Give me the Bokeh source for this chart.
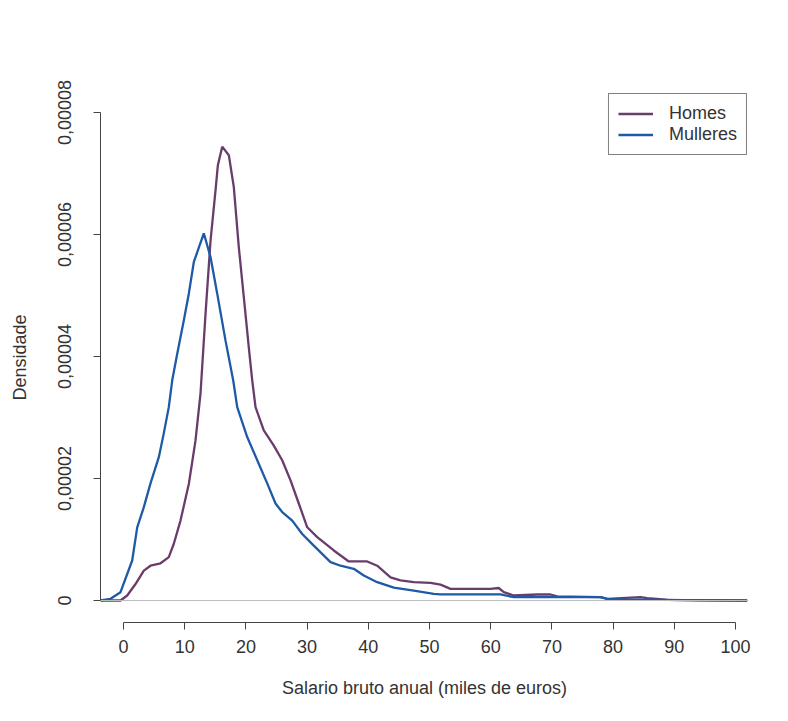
from bokeh.plotting import figure
from bokeh.models import Range1d, FixedTicker, Legend, LegendItem, Span, PolyAnnotation
from bokeh.embed import file_html
from bokeh.resources import INLINE

# Data: salary in thousands of euros, density
homes_x = [-3.76, -0.49, 0.60, 1.96, 3.32, 4.41, 6.05, 7.40, 8.22, 9.31, 10.67, 11.76,
           12.58, 13.40, 14.22, 15.03, 15.41, 16.13, 17.21, 18.02, 18.84, 19.66, 20.47,
           21.03, 21.57, 22.92, 24.56, 25.93, 27.29, 28.64, 30.02, 31.65, 34.36, 36.81,
           39.82, 41.45, 43.63, 45.26, 47.43, 50.16, 51.80, 53.43, 59.97, 61.3, 62.14,
           63.77, 67.6, 69.77, 70.87, 77.94, 79.04, 84.48, 85.57, 87.2, 88.84, 101.9]
homes_y = [0.0, 0.0, 0.082e-5, 0.27e-5, 0.49e-5, 0.57e-5, 0.61e-5, 0.71e-5, 0.93e-5,
           1.31e-5, 1.91e-5, 2.62e-5, 3.39e-5, 4.70e-5, 5.90e-5, 6.72e-5, 7.13e-5,
           7.44e-5, 7.30e-5, 6.78e-5, 5.79e-5, 4.97e-5, 4.15e-5, 3.61e-5, 3.17e-5,
           2.79e-5, 2.54e-5, 2.30e-5, 1.97e-5, 1.59e-5, 1.20e-5, 1.04e-5, 0.82e-5,
           0.64e-5, 0.64e-5, 0.57e-5, 0.38e-5, 0.33e-5, 0.30e-5, 0.29e-5, 0.26e-5,
           0.19e-5, 0.19e-5, 0.205e-5, 0.136e-5, 0.082e-5, 0.098e-5, 0.098e-5,
           0.066e-5, 0.054e-5, 0.028e-5, 0.054e-5, 0.038e-5, 0.028e-5, 0.011e-5, 0.0]

mulleres_x = [-3.76, -2.12, -0.49, 1.42, 2.24, 3.32, 4.41, 5.77, 6.58, 7.40, 7.96, 8.77,
              9.85, 10.67, 11.49, 13.12, 14.22, 15.31, 16.67, 17.92, 18.58, 20.21, 21.85,
              23.48, 24.84, 25.93, 27.57, 29.20, 31.09, 33.82, 35.46, 37.63, 39.26,
              41.45, 44.17, 47.43, 50.70, 51.80, 61.60, 63.77, 77.94, 79.04, 81.21,
              88.84, 94.3, 101.9]
mulleres_y = [0.0, 0.028e-5, 0.136e-5, 0.656e-5, 1.20e-5, 1.53e-5, 1.92e-5, 2.35e-5,
              2.74e-5, 3.17e-5, 3.61e-5, 4.04e-5, 4.59e-5, 5.03e-5, 5.55e-5, 6.02e-5,
              5.63e-5, 5.03e-5, 4.26e-5, 3.61e-5, 3.17e-5, 2.68e-5, 2.30e-5, 1.92e-5,
              1.59e-5, 1.45e-5, 1.31e-5, 1.09e-5, 0.90e-5, 0.63e-5, 0.57e-5, 0.52e-5,
              0.41e-5, 0.30e-5, 0.21e-5, 0.16e-5, 0.11e-5, 0.10e-5, 0.10e-5, 0.054e-5,
              0.054e-5, 0.028e-5, 0.016e-5, 0.011e-5, 0.003e-5, 0.0]

x_ticks = [0, 10, 20, 30, 40, 50, 60, 70, 80, 90, 100]
y_ticks = [0, 0.00002, 0.00004, 0.00006, 0.00008]
y_tick_labels = ["0", "0,00002", "0,00004", "0,00006", "0,00008"]

FONT = "Liberation Sans"
TEXT = "#333333"
AXIS = "#444444"
HOMES_COLOR = "#6A3C6C"
MULLERES_COLOR = "#1F5AA6"
BEIGE = "#FAF1E3"
GOLD = "#DEC680"

p = figure(width=780, height=713, output_backend="svg", toolbar_location=None,
           x_range=Range1d(-3.76, 102.12), y_range=Range1d(-3.607e-6, 8.328e-5),
           min_border_left=100, min_border_right=32, min_border_top=92,
           min_border_bottom=91, background_fill_color="white",
           border_fill_color="white")
p.outline_line_color = None
p.grid.visible = False

# decorative slide frame (page background shapes)
deco = [
    ([20, 272, 272, 20], [0, 0, 7, 7], BEIGE),
    ([311, 581, 587, 311], [0, 0, 7, 7], BEIGE),
    ([581, 780, 780, 587], [0, 0, 7, 7], GOLD),
    ([0, 7, 7, 0], [293, 310, 605, 598], BEIGE),
    ([0, 7, 7, 0], [598, 605, 713, 713], GOLD),
]
for xs, ys, col in deco:
    p.add_layout(PolyAnnotation(xs=xs, ys=ys, xs_units="canvas", ys_units="canvas",
                                fill_color=col, fill_alpha=1.0, line_color=None,
                                level="annotation"))

zero = Span(location=0, dimension="width", line_color="#BEBEBE", line_width=1)
p.add_layout(zero)

r_h = p.line(homes_x, homes_y, line_color=HOMES_COLOR, line_width=2.3)
r_m = p.line(mulleres_x, mulleres_y, line_color=MULLERES_COLOR, line_width=2.3)

# axes
xa = p.xaxis[0]
xa.ticker = FixedTicker(ticks=x_ticks)
xa.bounds = (0, 100)
xa.axis_label = "Salario bruto anual (miles de euros)"
ya = p.yaxis[0]
ya.ticker = FixedTicker(ticks=y_ticks)
ya.bounds = (0, 0.00008)
ya.major_label_overrides = {t: l for t, l in zip(y_ticks, y_tick_labels)}
ya.major_label_orientation = "vertical"
ya.axis_label = "Densidade"

for ax in (xa, ya):
    ax.axis_line_color = AXIS
    ax.axis_line_width = 1
    ax.major_tick_line_color = AXIS
    ax.major_tick_in = 0
    ax.major_tick_out = 7
    ax.minor_tick_line_color = None
    ax.major_label_text_font = FONT
    ax.major_label_text_font_size = "18px"
    ax.major_label_text_color = TEXT
    ax.axis_label_text_font = FONT
    ax.axis_label_text_font_size = "18px"
    ax.axis_label_text_font_style = "normal"
    ax.axis_label_text_color = TEXT

xa.major_label_standoff = 10
xa.axis_label_standoff = 22
ya.major_label_standoff = 22
ya.axis_label_standoff = 26

legend = Legend(items=[LegendItem(label="Homes", renderers=[r_h]),
                       LegendItem(label="Mulleres", renderers=[r_m])],
                location="top_right", margin=1, padding=9, spacing=0,
                glyph_width=35, glyph_height=19, label_height=19, label_standoff=16,
                border_line_color="black", border_line_width=1,
                label_text_font=FONT, label_text_font_size="18px",
                label_text_color=TEXT, background_fill_alpha=1.0)
p.add_layout(legend)

open("out.html", "w").write(file_html(p, INLINE))
